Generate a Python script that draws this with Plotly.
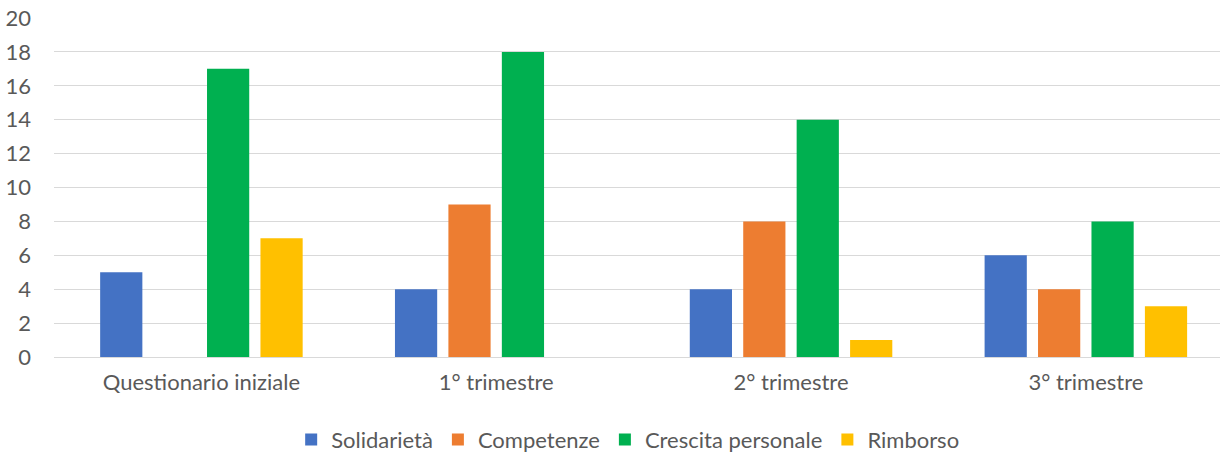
import plotly.graph_objects as go

categories = ["Questionario iniziale", "1° trimestre", "2° trimestre", "3° trimestre"]
solidarieta = [5, 4, 4, 6]
competenze = [None, 9, 8, 4]
crescita = [17, 18, 14, 8]
rimborso = [7, None, 1, 3]

series = [
    ("Solidarietà", solidarieta, "#4472C4"),
    ("Competenze", competenze, "#ED7D31"),
    ("Crescita personale", crescita, "#00B050"),
    ("Rimborso", rimborso, "#FFC000"),
]

font_family = "Lato, 'Open Sans', sans-serif"
text_color = "#595959"
grid_color = "#D9D9D9"

fig = go.Figure()
for name, values, color in series:
    fig.add_trace(go.Bar(
        x=categories, y=values, name=name,
        marker=dict(color=color, line=dict(width=0)),
    ))

fig.update_layout(
    width=1220, height=452,
    margin=dict(l=54, r=0, t=18, b=95),
    paper_bgcolor="white", plot_bgcolor="white",
    barmode="group", bargap=0.275, bargroupgap=0.21,
    font=dict(family=font_family, size=22, color=text_color),
    showlegend=True,
    legend=dict(
        orientation="h", x=0.492, xanchor="center",
        yref="container", y=0.027, yanchor="middle",
        font=dict(size=22, color=text_color),
        itemclick=False, itemdoubleclick=False,
    ),
    xaxis=dict(
        range=[-0.5, 3.455], showgrid=False, showline=False,
        ticks="", tickfont=dict(size=22, color=text_color),
        ticklabelstandoff=10,
    ),
    yaxis=dict(
        range=[0, 20], tick0=0, dtick=2,
        showgrid=True, gridcolor=grid_color, gridwidth=1,
        zeroline=True, zerolinecolor=grid_color, zerolinewidth=1,
        showline=False, ticks="",
        tickfont=dict(size=22, color=text_color),
        ticklabelstandoff=22,
    ),
)

fig.write_html("out.html")
